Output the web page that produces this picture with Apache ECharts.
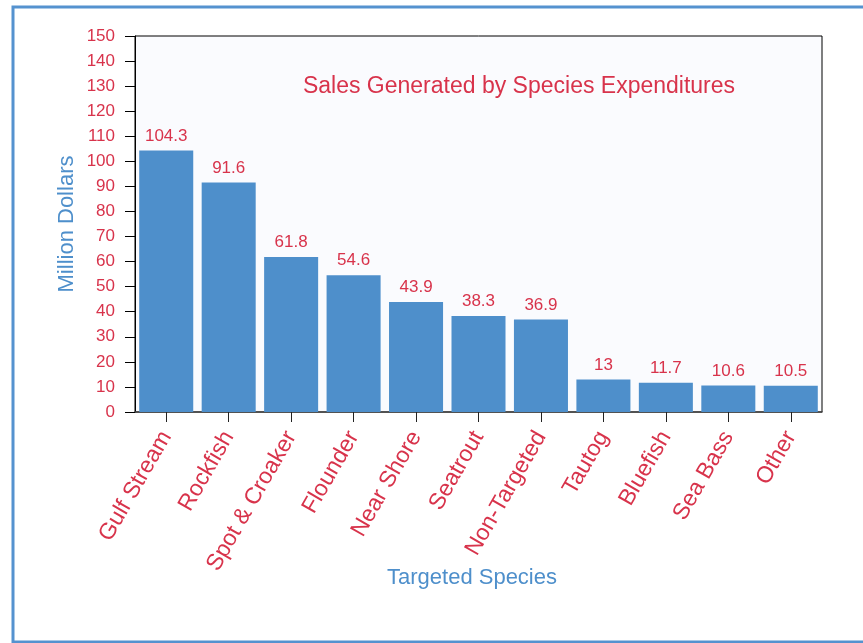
<!DOCTYPE html>
<html>
<head>
<meta charset="utf-8">
<script src="https://cdn.jsdelivr.net/npm/echarts@6/dist/echarts.min.js"></script>
<style>
  html, body { margin: 0; padding: 0; background: #ffffff; }
  #chart { width: 863px; height: 643px; }
</style>
</head>
<body>
<div id="chart"></div>
<script>
// Sales generated by targeted species (million dollars)
const categories = ['Gulf Stream', 'Rockfish', 'Spot & Croaker', 'Flounder', 'Near Shore', 'Seatrout', 'Non-Targeted', 'Tautog', 'Bluefish', 'Sea Bass', 'Other'];
const salesValues = [104.3, 91.6, 61.8, 54.6, 43.9, 38.3, 36.9, 13, 11.7, 10.6, 10.5];
const yTicks = { min: 0, max: 150, interval: 10 };

const RED = '#d8334b';
const BLUE = '#4e8fcb';
const FONT = '"Liberation Sans", Arial, sans-serif';

const chart = echarts.init(document.getElementById('chart'), null, { renderer: 'canvas' });

chart.setOption({
  animation: false,
  backgroundColor: '#ffffff',
  textStyle: { fontFamily: FONT },
  graphic: [{
    type: 'rect',
    z: -10,
    shape: { x: 13, y: 7, width: 900, height: 635 },
    style: { fill: 'none', stroke: '#5592cf', lineWidth: 3 }
  }],
  title: {
    text: 'Sales Generated by Species Expenditures',
    left: 514,
    top: 70,
    textAlign: 'center',
    textStyle: { color: RED, fontSize: 23, fontWeight: 'normal', fontFamily: FONT }
  },
  grid: {
    left: 135,
    right: 41,
    top: 36,
    bottom: 231,
    show: true,
    backgroundColor: '#fafbfe',
    borderColor: '#000000',
    borderWidth: 1
  },
  xAxis: {
    type: 'category',
    data: categories,
    name: 'Targeted Species',
    nameLocation: 'middle',
    nameGap: 155,
    nameMoveOverlap: false,
    nameTextStyle: { color: BLUE, fontSize: 22, fontFamily: FONT, padding: [0, 13, 0, 0] },
    axisLine: { show: true, lineStyle: { color: '#444444', width: 1.5 } },
    axisTick: { show: true, alignWithLabel: true, length: 10, lineStyle: { color: '#222222' } },
    axisLabel: {
      interval: 0,
      rotate: 60,
      margin: 21,
      color: RED,
      fontSize: 23,
      fontFamily: FONT
    },
    splitLine: { show: false }
  },
  yAxis: {
    type: 'value',
    min: yTicks.min,
    max: yTicks.max,
    interval: yTicks.interval,
    name: 'Million Dollars',
    nameLocation: 'middle',
    nameGap: 57,
    nameMoveOverlap: false,
    nameTextStyle: { color: BLUE, fontSize: 22, fontFamily: FONT },
    axisLine: { show: true, lineStyle: { color: '#000000', width: 1 } },
    axisTick: { show: true, length: 10, lineStyle: { color: '#000000' } },
    axisLabel: { color: RED, fontSize: 17, margin: 20, fontFamily: FONT },
    splitLine: { show: false }
  },
  series: [{
    type: 'bar',
    data: salesValues,
    barCategoryGap: '13.5%',
    itemStyle: { color: BLUE },
    label: {
      show: true,
      position: 'top',
      distance: 6,
      color: RED,
      fontSize: 17,
      fontFamily: FONT
    }
  }]
});
</script>
</body>
</html>
